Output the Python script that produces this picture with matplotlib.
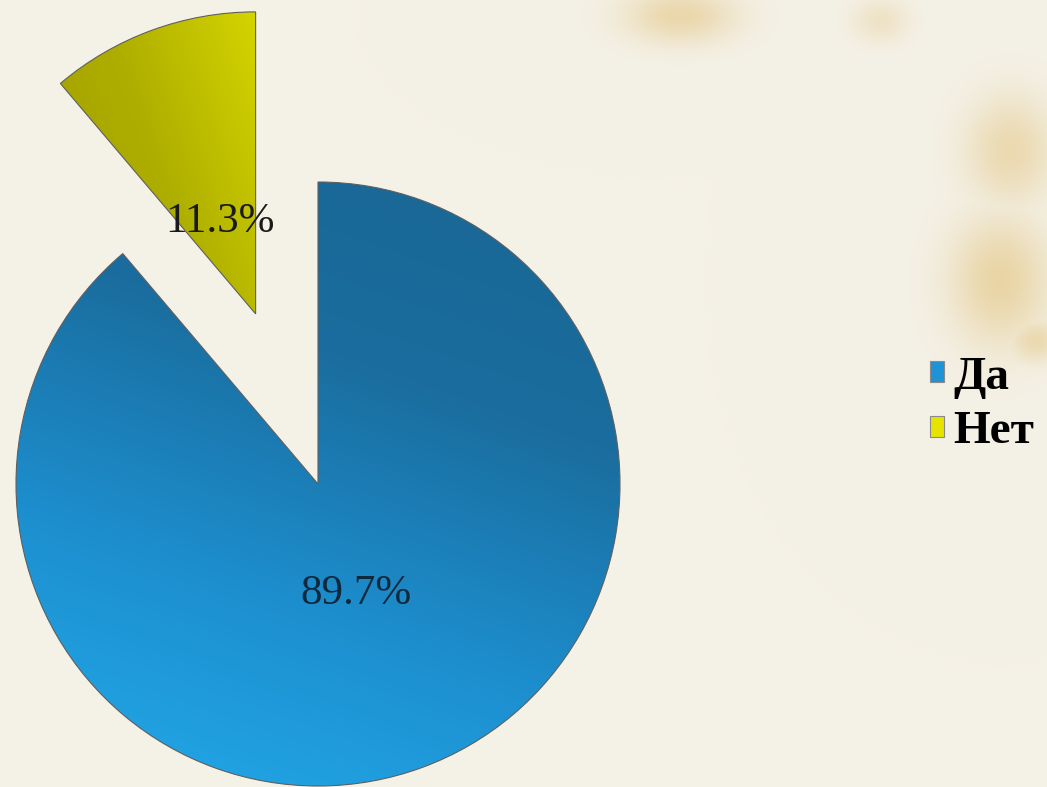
import numpy as np
import matplotlib.pyplot as plt
from matplotlib.colors import LinearSegmentedColormap, to_rgb
from matplotlib.patches import Patch

plt.rcParams['font.family'] = ['Liberation Serif', 'DejaVu Serif']

# survey answers
labels = ['Да', 'Нет']
values = [89.7, 11.3]
pct_labels = ['89.7%', '11.3%']

slice_cmaps = [
    LinearSegmentedColormap.from_list('da', ['#22aaea', '#1d8fcf', '#1a6d9e', '#196693']),
    LinearSegmentedColormap.from_list('net', ['#9e9d00', '#aeae00', '#d4d400']),
]
grad_dirs = [(0.35, 1.0), (1.0, 0.35)]
legend_colors = ['#1f93d6', '#e4e400']
text_colors = ['#10283c', '#1a1a1a']
pct_dist = [0.37, 0.34]

W, H = 1047, 787
cx_px, cy_px, r_px = 318, 484, 302

fig = plt.figure(figsize=(W / 100, H / 100), dpi=100)
fig.patch.set_facecolor('#f3f0e5')

# paper background with soft gold stains on the right
bg = fig.add_axes([0, 0, 1, 1], zorder=0)
gx, gy = np.meshgrid(np.arange(W), np.arange(H))
base = np.array(to_rgb('#f4f1e7'))
gold = np.array(to_rgb('#e2c27a'))
stain = np.zeros((H, W))
for sx, sy, rx, ry, a in [(680, 15, 55, 28, 0.55), (1010, 150, 45, 55, 0.5),
                          (1000, 280, 50, 65, 0.6), (1035, 340, 28, 22, 0.5),
                          (880, 20, 28, 22, 0.3)]:
    stain = np.maximum(stain, a * np.exp(-(((gx - sx) / rx) ** 2 + ((gy - sy) / ry) ** 2)))
paper = base * (1 - stain[..., None]) + gold * stain[..., None]
bg.imshow(paper, extent=[0, W, H, 0], aspect='auto')
bg.axis('off')

ax = fig.add_axes([0, 0, 1, 1], zorder=1)
ax.patch.set_alpha(0)

wedges, _ = ax.pie(values, radius=1, startangle=90, counterclock=False,
                   explode=[0, 0.6],
                   wedgeprops=dict(edgecolor='#5f5f5f', linewidth=0.8))

# gradient fill clipped to each wedge
for w, cmap, d in zip(wedges, slice_cmaps, grad_dirs):
    bb = w.get_path().get_extents(w.get_patch_transform())
    xs = np.linspace(bb.x0, bb.x1, 300)
    ys = np.linspace(bb.y0, bb.y1, 300)
    X, Y = np.meshgrid(xs, ys)
    dv = np.array(d) / np.hypot(*d)
    t = X * dv[0] + Y * dv[1]
    t = (t - t.min()) / (t.max() - t.min())
    im = ax.imshow(t, extent=[bb.x0, bb.x1, bb.y0, bb.y1], origin='lower',
                   cmap=cmap, interpolation='bicubic', zorder=2)
    im.set_clip_path(w)
    w.set_facecolor('none')
    w.set_zorder(3)

# percentage labels
for w, txt, col, dist in zip(wedges, pct_labels, text_colors, pct_dist):
    mid = np.deg2rad(0.5 * (w.theta1 + w.theta2))
    x0, y0 = w.center
    ax.text(x0 + dist * w.r * np.cos(mid), y0 + dist * w.r * np.sin(mid), txt,
            ha='center', va='center_baseline', fontsize=31, color=col, zorder=4)

ax.set_xlim(-cx_px / r_px, (W - cx_px) / r_px)
ax.set_ylim(-(H - cy_px) / r_px, cy_px / r_px)
ax.set_aspect('equal')
ax.axis('off')

handles = [Patch(facecolor=c, edgecolor='#8a8a8a', linewidth=0.8) for c in legend_colors]
fig.legend(handles, labels, loc='center left', bbox_to_anchor=(930 / W, 1 - 405 / H),
           frameon=False, prop=dict(weight='bold', size=34),
           handlelength=0.3, handleheight=0.3, handletextpad=0.2,
           labelspacing=0.26, borderpad=0, borderaxespad=0)

fig.savefig('out.png', dpi=100, facecolor=fig.get_facecolor())
